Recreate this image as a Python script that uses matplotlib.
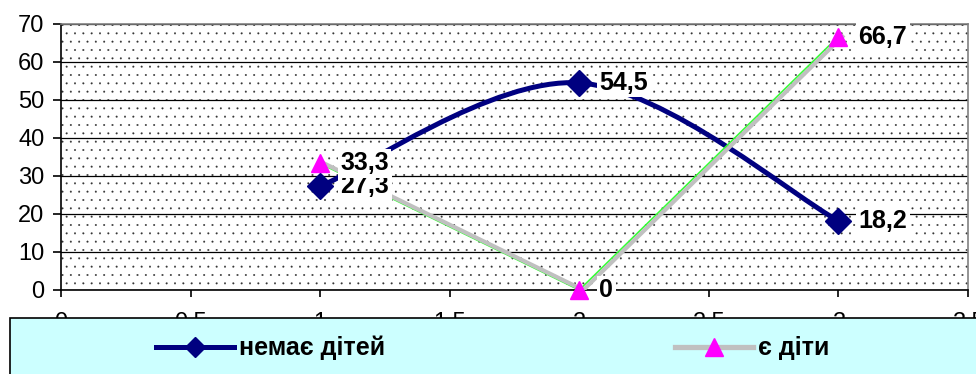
import numpy as np
import matplotlib.pyplot as plt
from matplotlib.path import Path
from matplotlib.patches import PathPatch, Rectangle
from matplotlib.lines import Line2D
from matplotlib.ticker import FuncFormatter
import matplotlib.transforms as mtransforms

plt.rcParams['font.family'] = ['Liberation Sans', 'DejaVu Sans']
plt.rcParams['hatch.linewidth'] = 0.2
plt.rcParams['hatch.color'] = '#333333'

x_pos = [1, 2, 3]
no_children = [27.3, 54.5, 18.2]
with_children = [33.3, 0, 66.7]
series_names = ['немає дітей', 'є діти']
y_ticks = [0, 10, 20, 30, 40, 50, 60, 70]
x_ticks = [0, 0.5, 1, 1.5, 2, 2.5, 3, 3.5]

navy = '#000080'
gray = '#C0C0C0'
green = '#33FF33'
magenta = '#FF00FF'

W, H = 976, 374
fig = plt.figure(figsize=(W / 100, H / 100), dpi=100)
ax = fig.add_axes([61 / W, 1 - 290 / H, (968 - 61) / W, (290 - 24) / H])
ax.set_xlim(0, 3.5)
ax.set_ylim(0, 70)

# dotted plot area
ax.add_patch(Rectangle((0, 0), 1, 1, transform=ax.transAxes, facecolor='white',
                       edgecolor='#333333', hatch='..', linewidth=0, zorder=0))
ax.set_yticks(y_ticks)
ax.set_xticks(x_ticks)
ax.xaxis.set_major_formatter(FuncFormatter(lambda v, p: ('%g' % v).replace('.', ',')))
ax.grid(axis='y', color='black', linewidth=0.9)
ax.set_axisbelow(True)
for s in ['top', 'right']:
    ax.spines[s].set_color('#808080')
    ax.spines[s].set_linewidth(1.2)
for s in ['left', 'bottom']:
    ax.spines[s].set_linewidth(1.2)
ax.tick_params(axis='y', direction='out', length=6, width=1.2, labelsize=17, pad=6)
ax.tick_params(axis='x', direction='out', length=5, width=1.2, labelsize=17, pad=11)

# smoothed line (Catmull-Rom style Bezier, like Excel)
pts = np.column_stack([x_pos, no_children])
verts = [pts[0]]
codes = [Path.MOVETO]
for i in range(len(pts) - 1):
    p0 = pts[max(i - 1, 0)]
    p1 = pts[i]
    p2 = pts[i + 1]
    p3 = pts[min(i + 2, len(pts) - 1)]
    verts += [p1 + (p2 - p0) / 6, p2 - (p3 - p1) / 6, p2]
    codes += [Path.CURVE4] * 3
ax.add_patch(PathPatch(Path(verts, codes), facecolor='none', edgecolor=navy,
                       linewidth=3.6, zorder=3, capstyle='round'))
ax.plot(x_pos, no_children, linestyle='none', marker='D', markersize=13,
        color=navy, zorder=5, clip_on=False)

shift = mtransforms.ScaledTranslation(4 / 100, 0, fig.dpi_scale_trans)
ax.plot(x_pos, with_children, color=green, linewidth=1.2, zorder=3, clip_on=False)
ax.plot(x_pos, with_children, color=gray, linewidth=3.0, zorder=3,
        transform=ax.transData + shift)
ax.plot(x_pos, with_children, linestyle='none', marker='^', markersize=12.5,
        color=magenta, zorder=6, clip_on=False)

# data labels
label_box = dict(boxstyle='square,pad=0.1', facecolor='white', edgecolor='none')
for xs, ys in [(x_pos, no_children), (x_pos, with_children)]:
    for xv, yv in zip(xs, ys):
        ax.annotate(('%g' % yv).replace('.', ','), (xv, yv), xytext=(14.5, 0),
                    textcoords='offset points', ha='left', va='center',
                    fontsize=18, fontweight='bold', bbox=label_box, zorder=7)

# legend panel
fig.add_artist(Rectangle((10 / W, -0.1), 1.0, (H - 318) / H + 0.1,
                         transform=fig.transFigure, facecolor='#CCFFFF',
                         edgecolor='black', linewidth=1.2))
handles = [
    Line2D([], [], color=navy, linewidth=3.6, marker='D', markersize=10.5),
    Line2D([], [], color=gray, linewidth=3.8, marker='^', markersize=13,
           markerfacecolor=magenta, markeredgecolor=magenta),
]
fig.legend(handles, series_names, loc='center left',
           bbox_to_anchor=(156 / W, 1 - 348 / H), ncol=2, frameon=False,
           borderaxespad=0, borderpad=0, handlelength=3.1, handletextpad=0.22,
           columnspacing=11.6, numpoints=1,
           prop={'size': 18, 'weight': 'bold'})

fig.savefig('out.png', dpi=100)
